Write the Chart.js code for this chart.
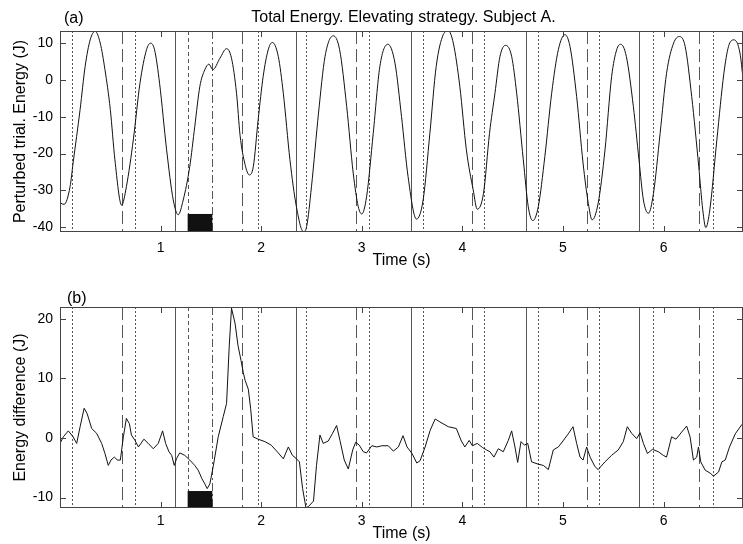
<!DOCTYPE html>
<html>
<head>
<meta charset="utf-8">
<script src="https://cdn.jsdelivr.net/npm/chart.js@4.4.1/dist/chart.umd.min.js"></script>
<style>
  html, body { margin: 0; padding: 0; background: #fff; }
  .panel { position: absolute; left: 0; width: 743px; height: 272px; }
</style>
</head>
<body>
<div class="panel" style="top:0"><canvas id="chartA" width="743" height="272"></canvas></div>
<div class="panel" style="top:272px"><canvas id="chartB" width="743" height="272"></canvas></div>
<script>
// ticks
const xTicks = [1, 2, 3, 4, 5, 6];
const yTicksA = [-40, -30, -20, -10, 0, 10];
const yTicksB = [-10, 0, 10, 20];

// event markers (s)
const solidLines = [1.143, 2.346, 3.486, 4.629, 5.755];
const dashedLines = [0.613, 1.806, 2.939, 4.092, 5.236, 6.352];
const dottedLines = [0.122, 0.745, 1.965, 2.445, 3.072, 3.608, 4.215, 4.755, 5.355, 5.892, 6.494];
const perturbWindow = [1.269, 1.514];
const blockTopA = -36.4;
const blockTopB = -8.9;

// (a) perturbed trial energy
const timeA = [0.01, 0.04, 0.1, 0.13, 0.2, 0.25, 0.3, 0.35, 0.4, 0.447, 0.5, 0.546, 0.613, 0.66, 0.73, 0.795,
  0.86, 0.9, 0.94, 0.99, 1.06, 1.126, 1.175, 1.225, 1.29, 1.34, 1.39, 1.44, 1.48, 1.52, 1.59, 1.656,
  1.705, 1.755, 1.79, 1.84, 1.882, 1.922, 1.97, 2.02, 2.07, 2.11, 2.17, 2.22, 2.286, 2.35, 2.42, 2.452,
  2.5, 2.57, 2.635, 2.717, 2.78, 2.85, 2.915, 2.965, 3.0, 3.048, 3.114, 3.18, 3.26, 3.33, 3.395, 3.46,
  3.544, 3.61, 3.677, 3.74, 3.81, 3.86, 3.91, 3.975, 4.04, 4.108, 4.148, 4.21, 4.27, 4.324, 4.374, 4.43,
  4.49, 4.54, 4.606, 4.655, 4.7, 4.755, 4.82, 4.888, 4.954, 5.02, 5.07, 5.136, 5.2, 5.252, 5.29, 5.35,
  5.418, 5.484, 5.534, 5.574, 5.63, 5.7, 5.756, 5.8, 5.85, 5.9, 5.966, 6.03, 6.1, 6.158, 6.215, 6.28,
  6.35, 6.39, 6.42, 6.46, 6.53, 6.6, 6.646, 6.7, 6.76, 6.79];
const energyA = [-33.5, -33.8, -29, -22.6, -8, 3.7, 10.9, 13.2, 10, 2.8, -8, -21.7, -34, -29, -16, -0.9,
  8.2, 10, 8.2, -0.9, -19, -32.6, -36.6, -32.6, -23.5, -12.6, -1.8, 2.8, 4.3, 2.8, 5.9, 8.5,
  5.9, -3.6, -15, -23, -25.8, -23.5, -10.8, 1, 8.2, 10.2, 6.4, -3.6, -21.7, -34.4, -41.2, -39.8,
  -29, -9, 6.4, 12, 8.2, -7.2, -25.3, -34.4, -36.4, -31.7, -14.5, 3.7, 9.7, 4.6, -9.9, -26.2,
  -37.8, -32.6, -14.5, 3.7, 12.3, 13.4, 10, -1.8, -19, -29.9, -35.1, -30.8, -14.5, -3.6, 6.4, 9.4,
  6.4, -3.6, -21.7, -34.4, -38.2, -34.4, -20.8, -3.6, 8.2, 12.3, 9.1, -4.5, -22.6, -33.5, -38, -33.5,
  -19, 0.9, 8.2, 9.7, 6.4, -7.2, -21.7, -32.6, -36.2, -30.8, -14.5, 1.8, 10, 11.8, 9.1, -4.5,
  -23.5, -35.3, -40.1, -35.3, -16.3, 1.8, 9.1, 10.9, 7.3, 0.5];

// (b) energy difference
const timeB = [0, 0.033, 0.083, 0.13, 0.166, 0.2, 0.24, 0.27, 0.315, 0.364, 0.414, 0.447, 0.48, 0.507, 0.54, 0.57,
  0.6, 0.63, 0.66, 0.69, 0.71, 0.745, 0.78, 0.834, 0.877, 0.927, 0.977, 1.02, 1.05, 1.083, 1.11, 1.136,
  1.16, 1.19, 1.24, 1.29, 1.34, 1.374, 1.41, 1.44, 1.463, 1.49, 1.523, 1.573, 1.623, 1.656, 1.682, 1.705,
  1.74, 1.77, 1.8, 1.822, 1.84, 1.872, 1.895, 1.92, 1.97, 2.037, 2.1, 2.17, 2.22, 2.27, 2.31, 2.346,
  2.38, 2.412, 2.445, 2.47, 2.52, 2.55, 2.584, 2.617, 2.667, 2.71, 2.75, 2.783, 2.826, 2.866, 2.91, 2.94,
  2.975, 3.015, 3.048, 3.1, 3.15, 3.2, 3.264, 3.314, 3.364, 3.41, 3.45, 3.5, 3.547, 3.58, 3.63, 3.68,
  3.73, 3.777, 3.86, 3.94, 3.99, 4.025, 4.068, 4.1, 4.148, 4.2, 4.24, 4.274, 4.314, 4.357, 4.407, 4.457,
  4.49, 4.523, 4.55, 4.583, 4.617, 4.65, 4.688, 4.755, 4.805, 4.855, 4.904, 4.954, 5.0, 5.053, 5.1, 5.136,
  5.17, 5.2, 5.236, 5.27, 5.318, 5.35, 5.418, 5.484, 5.55, 5.6, 5.64, 5.683, 5.733, 5.767, 5.8, 5.84,
  5.89, 5.948, 5.997, 6.03, 6.08, 6.124, 6.18, 6.23, 6.264, 6.297, 6.33, 6.347, 6.37, 6.414, 6.464, 6.497,
  6.547, 6.58, 6.613, 6.656, 6.713, 6.78];
const diffB = [-0.9, 0.2, 1.2, 0.2, -0.9, 1.9, 5, 4.1, 1.6, 0.8, -0.9, -2.6, -4.6, -3.7, -3.2, -3.7,
  -3.7, 0.2, 3.3, 2.4, 0.5, -0.4, -1.5, -0.2, -0.9, -1.8, -0.9, 1.2, -0.9, -2.3, -2.9, -4.6,
  -3.4, -2.5, -2.9, -3.7, -4.6, -5.4, -6.8, -7.7, -8.5, -7.7, -4.8, 0.2, 3.6, 5.8, 15.3, 21.8,
  19.3, 15.5, 13, 11, 9.7, 8.2, 5, 0.2, -0.2, -0.6, -1.2, -2.5, -3.5, -1.5, -2.9, -3.4,
  -4.0, -8.5, -11.7, -11.5, -10.6, -4.6, 0.5, -0.9, -0.5, 0.8, 2.1, -0.4, -3.7, -5.2, -2, -0.7,
  -1.2, -2.3, -2.5, -1.3, -1.5, -1.3, -1.3, -2.2, -1.5, 0.4, -1.5, -2.6, -4.2, -3.8, -1.5, 1.3,
  3.2, 2.7, 1.9, 1.6, -0.5, -1.5, -0.4, -1.3, -0.9, -1.6, -2, -2.3, -3.2, -1.8, -2.3, -0.4,
  1.2, -1.5, -4.1, -0.6, -1.2, -0.9, -4, -4.4, -4.6, -5.3, -2, -1.5, -0.5, 0.7, 1.9, -0.9,
  -3.2, -3.7, -1.5, -3.2, -4.8, -5.3, -4, -2.9, -2, -0.6, 1.9, 0.8, -0.1, 0.9, -0.9, -2.6,
  -1.9, -2.3, -2.9, -3.2, 0.2, -0.2, 1.0, 2, 0.2, -3.7, -3.2, -1.5, -4, -5.4, -5.9, -6.4,
  -5.7, -4, -3.7, -1.5, 0.7, 2.3];

Chart.defaults.font.family = '"Liberation Sans", Arial, sans-serif';
Chart.defaults.color = '#000';

const matlabAxes = {
  id: 'matlabAxes',
  beforeDatasetsDraw(chart, args, opts) {
    const { ctx, chartArea: a, scales: { x, y } } = chart;
    ctx.save();
    ctx.beginPath();
    ctx.rect(a.left, a.top, a.right - a.left, a.bottom - a.top);
    ctx.clip();
    ctx.lineWidth = 1;
    ctx.strokeStyle = '#555';
    const vline = (t, dash) => {
      const px = Math.round(x.getPixelForValue(t)) + 0.5;
      ctx.setLineDash(dash);
      ctx.beginPath();
      ctx.moveTo(px, a.top);
      ctx.lineTo(px, a.bottom);
      ctx.stroke();
    };
    solidLines.forEach(t => vline(t, []));
    dashedLines.forEach(t => vline(t, [13, 5]));
    dottedLines.forEach(t => vline(t, [2, 2]));
    vline(perturbWindow[0], [4, 3]);
    vline(perturbWindow[1], [8, 3, 2, 3]);
    ctx.setLineDash([]);
    // perturbation block
    const x0 = x.getPixelForValue(perturbWindow[0]);
    const x1 = x.getPixelForValue(perturbWindow[1]);
    const y0 = y.getPixelForValue(opts.blockTop);
    ctx.fillStyle = '#111';
    ctx.fillRect(x0, y0, x1 - x0, a.bottom - y0);
    ctx.restore();
  },
  afterDraw(chart, args, opts) {
    const { ctx, chartArea: a, scales: { x, y } } = chart;
    ctx.save();
    ctx.lineWidth = 1;
    ctx.strokeStyle = '#444';
    ctx.strokeRect(a.left + 0.5, a.top + 0.5, a.right - a.left - 1, a.bottom - a.top - 1);
    ctx.beginPath();
    xTicks.forEach(t => {
      const px = Math.round(x.getPixelForValue(t)) + 0.5;
      ctx.moveTo(px, a.bottom); ctx.lineTo(px, a.bottom - 6);
      ctx.moveTo(px, a.top); ctx.lineTo(px, a.top + 6);
    });
    opts.yTicks.forEach(v => {
      const py = Math.round(y.getPixelForValue(v)) + 0.5;
      ctx.moveTo(a.left, py); ctx.lineTo(a.left + 6, py);
      ctx.moveTo(a.right, py); ctx.lineTo(a.right - 6, py);
    });
    ctx.stroke();
    ctx.fillStyle = '#000';
    ctx.font = '16px "Liberation Sans", Arial, sans-serif';
    ctx.textBaseline = 'middle';
    ctx.textAlign = 'left';
    ctx.fillText(opts.tag, opts.tagX, opts.tagY);
    if (opts.title) {
      ctx.textAlign = 'center';
      ctx.fillText(opts.title, (a.left + a.right) / 2 + 2, opts.tagY - 1);
    }
    ctx.restore();
  }
};

function makePanel(id, xs, ys, yMin, yMax, yTicks, yTitle, cfg) {
  return new Chart(document.getElementById(id), {
    type: 'line',
    data: {
      datasets: [{
        data: xs.map((t, i) => ({ x: t, y: ys[i] })),
        borderColor: '#111',
        borderWidth: 1,
        pointRadius: 0,
        tension: cfg.tension,
        cubicInterpolationMode: cfg.mode
      }]
    },
    options: {
      responsive: false,
      animation: false,
      layout: { padding: { top: cfg.top, left: 0, right: 0, bottom: 0 } },
      plugins: {
        legend: { display: false },
        tooltip: { enabled: false },
        matlabAxes: { yTicks: yTicks, blockTop: cfg.blockTop, tag: cfg.tag, tagX: cfg.tagX, tagY: cfg.tagY, title: cfg.title }
      },
      scales: {
        x: {
          type: 'linear',
          min: 0,
          max: 6.79,
          grid: { display: false, drawTicks: false },
          border: { display: false },
          afterBuildTicks: s => { s.ticks = xTicks.map(v => ({ value: v })); },
          afterFit: s => { s.height = cfg.xHeight; },
          ticks: { padding: cfg.xPad, font: { size: 14 }, maxRotation: 0 },
          title: { display: true, text: 'Time (s)', font: { size: 16 }, padding: { top: 0, bottom: cfg.titlePad } }
        },
        y: {
          min: yMin,
          max: yMax,
          grid: { display: false, drawTicks: false },
          border: { display: false },
          afterBuildTicks: s => { s.ticks = yTicks.map(v => ({ value: v })); },
          afterFit: s => { s.width = 60; },
          ticks: { padding: 7, font: { size: 14 } },
          title: { display: true, text: yTitle, font: { size: 16 }, padding: { top: 11, bottom: 0 } }
        }
      }
    },
    plugins: [matlabAxes]
  });
}

makePanel('chartA', timeA, energyA, -41.3, 13.3, yTicksA, 'Perturbed trial. Energy (J)', {
  top: 31, xHeight: 40, xPad: 8, titlePad: 2, tension: 0, mode: 'monotone',
  blockTop: blockTopA, tag: '(a)', tagX: 64, tagY: 19,
  title: 'Total Energy. Elevating strategy. Subject A.'
});
makePanel('chartB', timeB, diffB, -11.75, 22, yTicksB, 'Energy difference (J)', {
  top: 35, xHeight: 36, xPad: 5, titlePad: 1, tension: 0, mode: 'default',
  blockTop: blockTopB, tag: '(b)', tagX: 67, tagY: 27, title: ''
});
</script>
</body>
</html>
